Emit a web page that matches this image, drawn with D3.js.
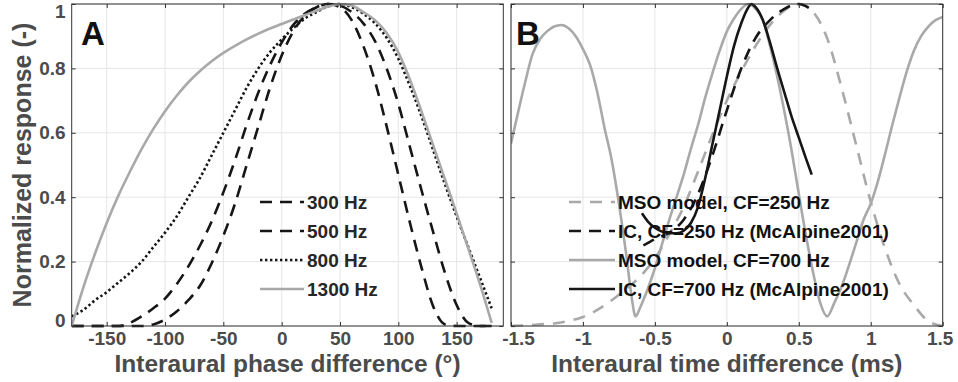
<!DOCTYPE html>
<html>
<head>
<meta charset="utf-8">
<script src="https://cdn.jsdelivr.net/npm/d3@7"></script>
<style>
  html, body { margin: 0; padding: 0; background: #fff; }
  svg { display: block; font-family: "Liberation Sans", Arial, Helvetica, sans-serif; font-weight: bold; }
</style>
</head>
<body>
<div id="chart"></div>
<script>
/*******************************/
/*          The data           */
/*******************************/
// Panel A: interaural phase difference (degrees)
const ipdDegrees = [-180, -170, -160, -150, -140, -130, -120, -110, -100, -90, -80, -70, -60, -50, -40, -30, -20, -10,
  0, 10, 20, 30, 40, 50, 60, 70, 80, 90, 100, 110, 120, 130, 140, 150, 160, 170, 180];
const resp300 = [0, 0, 0, 0, 0, 0, 0, 0.005, 0.02, 0.045, 0.08, 0.125, 0.195, 0.28, 0.38, 0.5, 0.62, 0.74,
  0.84, 0.915, 0.965, 0.99, 1.0, 0.99, 0.95, 0.87, 0.76, 0.62, 0.47, 0.32, 0.18, 0.06, 0.005, 0, 0, 0, 0];
const resp500 = [0, 0, 0, 0, 0, 0.01, 0.03, 0.055, 0.085, 0.13, 0.185, 0.25, 0.325, 0.415, 0.515, 0.625, 0.725, 0.81,
  0.88, 0.935, 0.97, 0.99, 1.0, 0.995, 0.975, 0.94, 0.885, 0.8, 0.69, 0.555, 0.42, 0.29, 0.165, 0.065, 0.01, 0, 0];
const resp800 = [0.03, 0.05, 0.08, 0.105, 0.135, 0.165, 0.2, 0.245, 0.29, 0.34, 0.4, 0.46, 0.53, 0.6, 0.67, 0.74, 0.8, 0.85,
  0.89, 0.925, 0.955, 0.975, 0.993, 1.0, 0.99, 0.97, 0.94, 0.895, 0.83, 0.745, 0.65, 0.545, 0.44, 0.34, 0.245, 0.15, 0.055];
const resp1300 = [0, 0.12, 0.225, 0.32, 0.405, 0.48, 0.55, 0.612, 0.667, 0.715, 0.757, 0.792, 0.822, 0.848, 0.87, 0.89, 0.908, 0.924,
  0.938, 0.952, 0.966, 0.979, 0.992, 1.0, 0.995, 0.975, 0.95, 0.91, 0.85, 0.765, 0.665, 0.56, 0.455, 0.35, 0.24, 0.13, 0.01];

// Panel B: interaural time difference (ms)
const msoLowItd = [-1.5, -1.4, -1.3, -1.2, -1.1, -1.0, -0.9, -0.8, -0.7, -0.6, -0.5, -0.4, -0.3, -0.2, -0.1,
  0, 0.1, 0.2, 0.3, 0.4, 0.5, 0.6, 0.7, 0.8, 0.9, 1.0, 1.1, 1.2, 1.3, 1.4, 1.5];
const msoLowResp = [0, 0.002, 0.005, 0.008, 0.016, 0.028, 0.05, 0.08, 0.115, 0.155, 0.21, 0.285, 0.37, 0.48, 0.595,
  0.7, 0.79, 0.87, 0.935, 0.98, 1.0, 0.975, 0.89, 0.735, 0.56, 0.385, 0.24, 0.13, 0.065, 0.015, 0];

const icLowItd = [-0.58, -0.5, -0.4, -0.3, -0.2, -0.1, 0, 0.1, 0.2, 0.3, 0.4, 0.5, 0.58];
const icLowResp = [0.25, 0.27, 0.29, 0.33, 0.41, 0.53, 0.67, 0.8, 0.895, 0.95, 0.985, 1.0, 0.985];

const msoHighItd = [-1.5, -1.45, -1.4, -1.35, -1.3, -1.25, -1.2, -1.15, -1.1, -1.05, -1.0, -0.95, -0.9, -0.85, -0.8,
  -0.75, -0.7, -0.66, -0.635, -0.6, -0.55, -0.5, -0.45, -0.4, -0.35, -0.3, -0.25, -0.2, -0.15, -0.1, -0.05,
  0, 0.05, 0.1, 0.15, 0.2, 0.25, 0.3, 0.35, 0.4, 0.45, 0.5, 0.55, 0.6, 0.65, 0.697,
  0.75, 0.8, 0.85, 0.9, 0.95, 1.0, 1.05, 1.1, 1.15, 1.2, 1.25, 1.3, 1.35, 1.4, 1.45, 1.5];
const msoHighResp = [0.567, 0.665, 0.76, 0.845, 0.89, 0.915, 0.93, 0.935, 0.925, 0.9, 0.86, 0.81, 0.725, 0.615, 0.515,
  0.38, 0.225, 0.085, 0.03, 0.06, 0.115, 0.18, 0.255, 0.33, 0.4, 0.47, 0.55, 0.625, 0.71, 0.785, 0.855,
  0.915, 0.955, 0.985, 1.0, 0.985, 0.95, 0.87, 0.775, 0.665, 0.545, 0.41, 0.28, 0.165, 0.07, 0.03,
  0.075, 0.125, 0.19, 0.26, 0.33, 0.38, 0.45, 0.535, 0.625, 0.71, 0.79, 0.855, 0.9, 0.93, 0.95, 0.96];

const icHighItd = [-0.59, -0.55, -0.5, -0.45, -0.4, -0.35, -0.3, -0.25, -0.2, -0.15, -0.1, -0.05,
  0, 0.05, 0.1, 0.15, 0.17, 0.2, 0.25, 0.3, 0.35, 0.4, 0.45, 0.5, 0.55, 0.59];
const icHighResp = [0.35, 0.325, 0.305, 0.293, 0.288, 0.288, 0.296, 0.32, 0.37, 0.46, 0.565, 0.67,
  0.775, 0.87, 0.94, 0.99, 1.0, 0.99, 0.95, 0.88, 0.8, 0.725, 0.65, 0.585, 0.52, 0.47];

// Ticks and labels
const yTicks = [0, 0.2, 0.4, 0.6, 0.8, 1];
const xTicksA = [-150, -100, -50, 0, 50, 100, 150];
const xTicksB = [-1.5, -1, -0.5, 0, 0.5, 1, 1.5];
const legendA = ["300 Hz", "500 Hz", "800 Hz", "1300 Hz"];
const legendB = ["MSO model, CF=250 Hz", "IC, CF=250 Hz (McAlpine2001)", "MSO model, CF=700 Hz", "IC, CF=700 Hz (McAlpine2001)"];


/*******************************/
/*    Declare the constants    */
/*******************************/
const width = 958;
const height = 382;
const plotTop = 4;
const plotBottom = 326;
const gray = "#a9a9a9";
const black = "#161616";
const textGray = "#4b4b4b";
const tickFont = 19;

const svg = d3.select("#chart")
  .append("svg")
    .attr("width", width)
    .attr("height", height);

const yScale = d3.scaleLinear().domain([0, 1]).range([plotBottom, plotTop]);


/*******************************/
/*     Panel drawing helper    */
/*******************************/
const drawPanel = (opts) => {
  const xScale = d3.scaleLinear().domain(opts.xDomain).range([opts.left, opts.right]);
  const g = svg.append("g");

  // Grid
  g.append("g").selectAll("line").data(opts.xTicks).join("line")
    .attr("x1", d => xScale(d)).attr("x2", d => xScale(d))
    .attr("y1", plotTop).attr("y2", plotBottom)
    .attr("stroke", "#e6e6e6").attr("stroke-width", 1);
  g.append("g").selectAll("line").data(yTicks).join("line")
    .attr("x1", opts.left).attr("x2", opts.right)
    .attr("y1", d => yScale(d)).attr("y2", d => yScale(d))
    .attr("stroke", "#e6e6e6").attr("stroke-width", 1);

  // Curves, clipped to the axes box
  const clipId = `clip-${opts.name}`;
  svg.append("clipPath").attr("id", clipId)
    .append("rect")
      .attr("x", opts.left).attr("y", plotTop - 2)
      .attr("width", opts.right - opts.left).attr("height", plotBottom - plotTop + 4);
  const curves = g.append("g").attr("clip-path", `url(#${clipId})`);
  const line = d3.line()
    .x(d => xScale(d[0]))
    .y(d => yScale(d[1]))
    .curve(d3.curveMonotoneX);
  opts.series.forEach(s => {
    curves.append("path")
      .attr("d", line(d3.zip(s.x, s.y)))
      .attr("fill", "none")
      .attr("stroke", s.color)
      .attr("stroke-width", s.width)
      .attr("stroke-dasharray", s.dash)
      .attr("stroke-linejoin", "round");
  });

  // Axes (ticks inside, box on all four sides)
  const bottomAxis = d3.axisBottom(xScale)
    .tickValues(opts.xTicks)
    .tickSize(-4)
    .tickSizeOuter(0)
    .tickPadding(6)
    .tickFormat(d => String(d));
  const xAxis = g.append("g")
    .attr("transform", `translate(0, ${plotBottom})`)
    .call(bottomAxis);
  xAxis.selectAll("text")
    .attr("font-size", tickFont)
    .attr("fill", textGray)
    .attr("font-family", "inherit")
    .attr("dx", d => opts.xLabelShift(d));

  g.append("g")
    .attr("transform", `translate(0, ${plotTop})`)
    .call(d3.axisTop(xScale).tickValues(opts.xTicks).tickSize(-4).tickSizeOuter(0).tickFormat(""));

  const leftAxis = d3.axisLeft(yScale)
    .tickValues(yTicks)
    .tickSize(-4)
    .tickSizeOuter(0)
    .tickPadding(6)
    .tickFormat(opts.yLabels ? (d => String(d)) : "");
  const yAxis = g.append("g")
    .attr("transform", `translate(${opts.left}, 0)`)
    .call(leftAxis);
  yAxis.selectAll("text")
    .attr("font-size", tickFont)
    .attr("fill", textGray)
    .attr("font-family", "inherit")
    .attr("dy", d => d === 1 ? "0.7em" : d === 0 ? "0.05em" : "0.32em");

  g.append("g")
    .attr("transform", `translate(${opts.right}, 0)`)
    .call(d3.axisRight(yScale).tickValues(yTicks).tickSize(-4).tickSizeOuter(0).tickFormat(""));

  g.selectAll(".domain").remove();
  g.selectAll(".tick line").attr("stroke", "#333").attr("stroke-width", 1);

  g.append("rect")
    .attr("x", opts.left).attr("y", plotTop)
    .attr("width", opts.right - opts.left).attr("height", plotBottom - plotTop)
    .attr("fill", "none").attr("stroke", "#333").attr("stroke-width", 1);

  // Axis title
  g.append("text")
    .text(opts.xTitle)
    .attr("x", (opts.left + opts.right) / 2)
    .attr("y", 372)
    .attr("text-anchor", "middle")
    .attr("font-size", 24.5)
    .attr("fill", textGray);

  // Panel letter
  g.append("text")
    .text(opts.name)
    .attr("x", opts.letterX)
    .attr("y", 45)
    .attr("font-size", 33)
    .attr("fill", "#111");

  // Legend (no box)
  const legend = g.append("g");
  opts.series.forEach((s, i) => {
    const ly = 202 + i * 29;
    legend.append("line")
      .attr("x1", opts.legendX).attr("x2", opts.legendX + opts.legendLen)
      .attr("y1", ly).attr("y2", ly)
      .attr("stroke", s.color)
      .attr("stroke-width", s.width)
      .attr("stroke-dasharray", s.dash);
    legend.append("text")
      .text(opts.legend[i])
      .attr("x", opts.legendX + opts.legendLen + 3)
      .attr("y", ly + 7)
      .attr("font-size", tickFont)
      .attr("fill", opts.legendColor);
  });
};


/*******************************/
/*          Panel A            */
/*******************************/
drawPanel({
  name: "A",
  left: 71.7,
  right: 503.3,
  xDomain: [-180, 190],
  xTicks: xTicksA,
  xTitle: "Interaural phase difference (°)",
  yLabels: true,
  xLabelShift: () => 0,
  letterX: 81,
  legend: legendA,
  legendX: 260,
  legendLen: 44,
  legendColor: "#262626",
  series: [
    {x: ipdDegrees, y: resp300, color: black, width: 2.6, dash: "12,8"},
    {x: ipdDegrees, y: resp500, color: black, width: 2.6, dash: "12,8"},
    {x: ipdDegrees, y: resp800, color: black, width: 2.6, dash: "2.4,2.6"},
    {x: ipdDegrees, y: resp1300, color: gray, width: 2.6, dash: null}
  ]
});


/*******************************/
/*          Panel B            */
/*******************************/
drawPanel({
  name: "B",
  left: 511,
  right: 942.7,
  xDomain: [-1.5, 1.5],
  xTicks: xTicksB,
  xTitle: "Interaural time difference (ms)",
  yLabels: false,
  xLabelShift: d => d === -1.5 ? 7 : d === 1.5 ? -3 : 0,
  letterX: 516,
  legend: legendB,
  legendX: 569,
  legendLen: 46,
  legendColor: "#111",
  series: [
    {x: msoLowItd, y: msoLowResp, color: gray, width: 2.6, dash: "12,9"},
    {x: icLowItd, y: icLowResp, color: black, width: 2.6, dash: "12,8"},
    {x: msoHighItd, y: msoHighResp, color: gray, width: 2.6, dash: null},
    {x: icHighItd, y: icHighResp, color: black, width: 2.6, dash: null}
  ]
});

// Y axis title
svg.append("text")
  .text("Normalized response (-)")
  .attr("transform", "translate(31, 165) rotate(-90)")
  .attr("text-anchor", "middle")
  .attr("font-size", 25)
  .attr("fill", textGray);
</script>
</body>
</html>
